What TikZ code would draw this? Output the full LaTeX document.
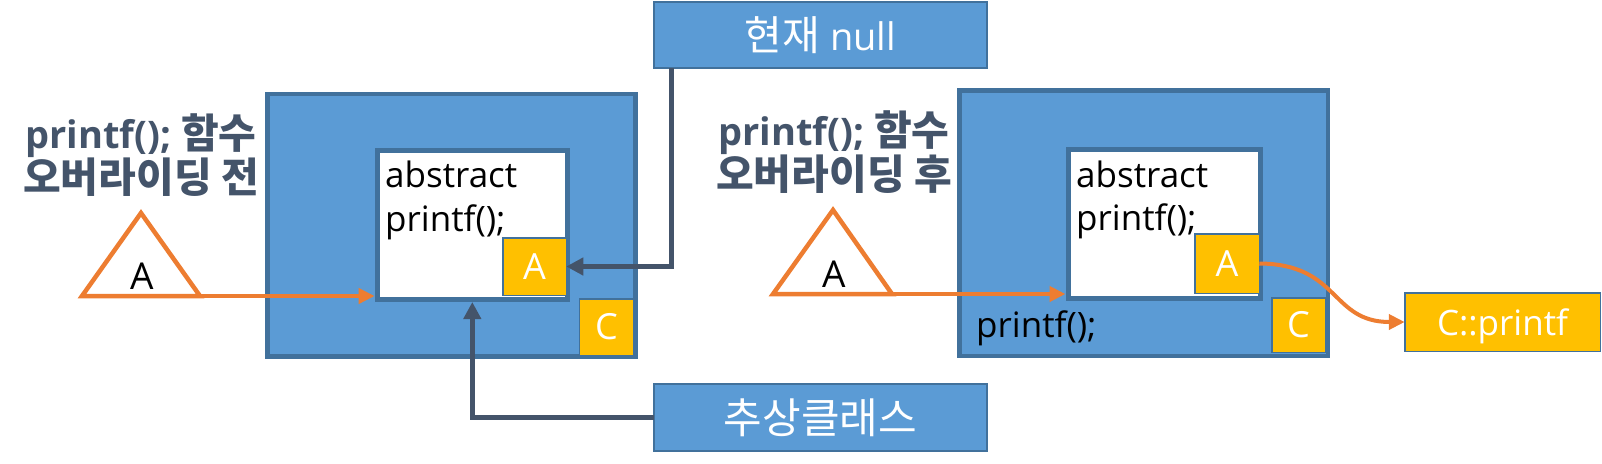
\documentclass[tikz,border=0pt]{standalone}
\usepackage{fontspec}
\setmainfont{Open Sans}
\newfontfamily\kr{Noto Sans CJK KR}
\usetikzlibrary{arrows.meta}
\definecolor{fillblue}{HTML}{5B9BD5}
\definecolor{edgeblue}{HTML}{41719C}
\definecolor{acorange}{HTML}{ED7D31}
\definecolor{acyellow}{HTML}{FFC000}
\definecolor{slate}{HTML}{44546A}
\newcommand{\krbig}[1]{{\kr\fontsize{41}{41}\selectfont #1}}
\newcommand{\krlab}[1]{{\kr\fontsize{41}{41}\selectfont #1}}
\begin{document}
\begin{tikzpicture}[x=1pt,y=-1pt,
  bigbox/.style={draw=edgeblue,fill=fillblue,line width=4.5pt,inner sep=0pt,outer sep=0pt},
  innerbox/.style={draw=edgeblue,fill=white,line width=5pt,inner sep=0pt,outer sep=0pt},
  ybox/.style={draw=edgeblue,fill=acyellow,line width=1.5pt,inner sep=0pt,outer sep=0pt,text=white,font=\fontsize{36}{36}\selectfont},
  labbox/.style={draw=edgeblue,fill=fillblue,line width=2pt,inner sep=0pt,outer sep=0pt,text=white,font=\fontsize{38}{38}\selectfont},
  codetext/.style={inner sep=0pt,anchor=base west,font=\fontsize{35}{35}\selectfont},
  ttl/.style={inner sep=0pt,anchor=base,text=slate,font=\fontsize{38}{38}\selectfont\bfseries},
  tri/.style={draw=acorange,line width=4.5pt,fill=white,line join=miter},
  trilabel/.style={inner sep=0pt,anchor=base,font=\fontsize{37}{37}\selectfont},
  oarrow/.style={draw=acorange,line width=4pt,-{Triangle[length=16pt,width=15pt]}},
  darrow/.style={draw=slate,line width=5pt,-{Triangle[length=17pt,width=17pt]}},
]
\useasboundingbox (0,0) rectangle (1602,463);

% ---------- left part ----------
\node[bigbox,minimum width=368pt,minimum height=262.5pt] (LB) at (451.3,225.2) {};
\node[innerbox,minimum width=190.4pt,minimum height=149pt] (LI) at (472.3,225) {};
\node[codetext] (LabsT) at (385,187) {abstract};
\node[codetext] (LprT) at (385,231) {printf();};
\node[ybox,minimum width=63.5pt,minimum height=57.5pt] (LA) at (534.5,266.5) {A};
\node[ybox,minimum width=54pt,minimum height=56.5pt] (LC) at (606.4,327) {C};

\node[ttl] (LT1) at (141,148) {printf(); \krbig{함수}};
\node[ttl] (LT2) at (141,192) {\krbig{오버라이딩 전}};

\draw[tri] (82,296) -- (141,213) -- (200,296) -- cycle;
\coordinate (tLb) at (200,296);
\node[trilabel] (LtriA) at (142,289) {A};

% ---------- right part ----------
\node[bigbox,minimum width=368.5pt,minimum height=265.5pt] (RB) at (1143.5,223) {};
\node[innerbox,minimum width=192pt,minimum height=149pt] (RI) at (1164,223.7) {};
\node[codetext] (RabsT) at (1076,187) {abstract};
\node[codetext] (RprT) at (1076,230) {printf();};
\node[codetext] (RprB) at (976,337) {printf();};
\node[ybox,minimum width=64.5pt,minimum height=59.5pt] (RA) at (1227,263.5) {A};
\node[ybox,minimum width=53.5pt,minimum height=54.5pt] (RC) at (1298.5,325) {C};

\node[ttl] (RT1) at (834,145) {printf(); \krbig{함수}};
\node[ttl] (RT2) at (834,189) {\krbig{오버라이딩 후}};

\draw[tri] (773,294) -- (833,210) -- (892,294) -- cycle;
\coordinate (tRb) at (892,294);
\node[trilabel] (RtriA) at (834,287) {A};

\node[ybox,font=\fontsize{35}{35}\selectfont,text depth=0pt,minimum width=195.5pt,minimum height=58.5pt] (CP) at (1502.5,322) {C::printf};

% ---------- label boxes ----------
\node[labbox,minimum width=333pt,minimum height=66pt] (TN) at (820.5,35) {\krlab{현재} null};
\node[labbox,minimum width=333pt,minimum height=67pt] (BA) at (820.5,417.5) {{\kr\fontsize{42}{42}\selectfont 추상클래스}};

% ---------- connectors ----------
\draw[oarrow,shorten >=2.5pt] (tLb) -- (tLb -| LI.west);
\draw[oarrow,shorten >=2.5pt] (tRb) -- (tRb -| RI.west);
\draw[darrow] ([xshift=17pt]TN.south west) |- (LA.east);
\draw[darrow,shorten >=2.5pt] (BA.west) -| (LI.south);
\draw[oarrow] (RA.east) .. controls (1340,264) and (1330,322) .. (CP.west);
\end{tikzpicture}
\end{document}
